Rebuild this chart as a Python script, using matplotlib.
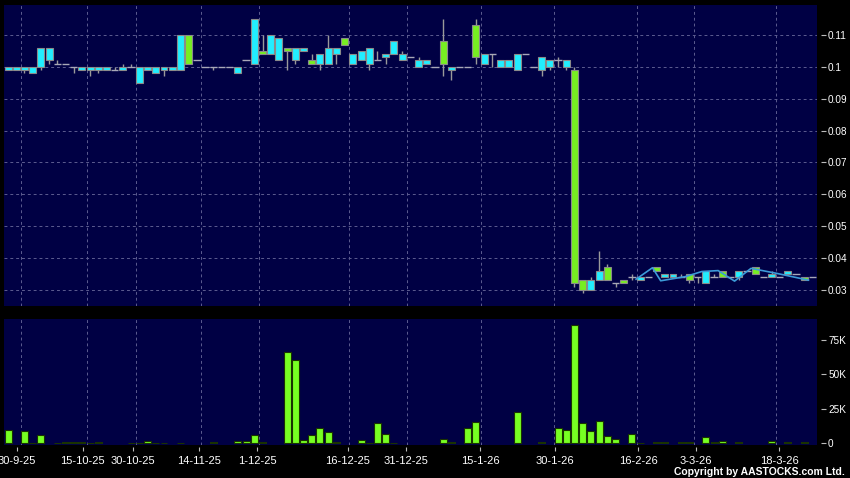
import numpy as np
import matplotlib.pyplot as plt

plt.rcParams['font.family'] = ['Liberation Sans', 'DejaVu Sans']

# daily candles, index 0..98
opens = [0.099, 0.099, 0.099, 0.098, 0.100, 0.102, 0.101, 0.101, 0.100, 0.099,
         0.099, 0.099, 0.099, 0.099, 0.099, 0.100, 0.095, 0.099, 0.098, 0.099,
         0.099, 0.099, 0.110, 0.102, 0.100, 0.100, 0.100, 0.100, 0.098, 0.102,
         0.101, 0.105, 0.104, 0.102, 0.106, 0.102, 0.105, 0.102, 0.101, 0.101,
         0.104, 0.109, 0.101, 0.102, 0.101, 0.102, 0.103, 0.104, 0.102, 0.103,
         0.100, 0.101, 0.100, 0.108, 0.099, 0.100, 0.100, 0.113, 0.101, 0.104,
         0.100, 0.100, 0.099, 0.104, 0.100, 0.099, 0.100, 0.102, 0.100, 0.099,
         0.033, 0.030, 0.033, 0.037, 0.032, 0.033, 0.034, 0.033, 0.034, 0.037,
         0.034, 0.034, 0.034, 0.035, 0.034, 0.032, 0.034, 0.036, 0.034, 0.034,
         0.036, 0.037, 0.034, 0.034, 0.034, 0.035, 0.035, 0.034, 0.034]
highs = [0.100, 0.100, 0.100, 0.100, 0.106, 0.106, 0.102, 0.101, 0.100, 0.100,
         0.100, 0.100, 0.100, 0.100, 0.101, 0.101, 0.100, 0.100, 0.100, 0.100,
         0.100, 0.110, 0.110, 0.102, 0.100, 0.100, 0.100, 0.100, 0.100, 0.102,
         0.115, 0.110, 0.110, 0.109, 0.106, 0.106, 0.106, 0.104, 0.104, 0.110,
         0.106, 0.109, 0.104, 0.105, 0.106, 0.105, 0.104, 0.108, 0.105, 0.103,
         0.103, 0.102, 0.100, 0.115, 0.100, 0.100, 0.100, 0.115, 0.104, 0.104,
         0.102, 0.102, 0.104, 0.104, 0.100, 0.103, 0.102, 0.103, 0.102, 0.100,
         0.033, 0.034, 0.042, 0.038, 0.032, 0.033, 0.035, 0.034, 0.034, 0.037,
         0.035, 0.035, 0.035, 0.035, 0.034, 0.036, 0.035, 0.036, 0.034, 0.036,
         0.036, 0.037, 0.034, 0.036, 0.034, 0.036, 0.035, 0.034, 0.034]
lows = [0.099, 0.099, 0.098, 0.098, 0.099, 0.101, 0.101, 0.101, 0.098, 0.099,
        0.097, 0.098, 0.099, 0.099, 0.099, 0.100, 0.095, 0.099, 0.098, 0.097,
        0.099, 0.099, 0.101, 0.102, 0.100, 0.099, 0.100, 0.100, 0.098, 0.102,
        0.101, 0.104, 0.104, 0.102, 0.099, 0.101, 0.105, 0.101, 0.099, 0.101,
        0.101, 0.107, 0.101, 0.102, 0.099, 0.102, 0.101, 0.104, 0.102, 0.103,
        0.100, 0.101, 0.100, 0.097, 0.096, 0.100, 0.100, 0.101, 0.101, 0.100,
        0.100, 0.100, 0.099, 0.104, 0.100, 0.097, 0.099, 0.100, 0.099, 0.031,
        0.029, 0.030, 0.033, 0.033, 0.031, 0.032, 0.033, 0.033, 0.034, 0.036,
        0.034, 0.034, 0.034, 0.032, 0.032, 0.032, 0.034, 0.034, 0.034, 0.033,
        0.036, 0.035, 0.034, 0.034, 0.034, 0.035, 0.035, 0.033, 0.034]
closes = [0.100, 0.100, 0.100, 0.100, 0.106, 0.106, 0.101, 0.101, 0.100, 0.100,
          0.100, 0.100, 0.100, 0.099, 0.100, 0.100, 0.100, 0.100, 0.100, 0.100,
          0.100, 0.110, 0.101, 0.102, 0.100, 0.100, 0.100, 0.100, 0.100, 0.102,
          0.115, 0.104, 0.110, 0.109, 0.105, 0.106, 0.106, 0.101, 0.104, 0.106,
          0.106, 0.107, 0.104, 0.105, 0.106, 0.102, 0.104, 0.108, 0.104, 0.103,
          0.102, 0.102, 0.100, 0.101, 0.100, 0.100, 0.100, 0.103, 0.104, 0.104,
          0.102, 0.102, 0.104, 0.104, 0.100, 0.103, 0.102, 0.102, 0.102, 0.032,
          0.030, 0.033, 0.036, 0.033, 0.032, 0.032, 0.034, 0.034, 0.034, 0.036,
          0.035, 0.035, 0.034, 0.033, 0.034, 0.036, 0.034, 0.034, 0.034, 0.036,
          0.036, 0.035, 0.034, 0.035, 0.034, 0.036, 0.035, 0.033, 0.034]
# volume in thousands of shares
volumes = [9.7, 0, 8.9, 0.4, 6.0, 0, 0.2, 1.0, 1.0, 1.0,
           0.2, 1.0, 0, 0, 0, 0.2, 0.2, 1.9, 0.2, 0.2,
           0, 0.1, 0, 0, 0, 0.9, 0, 0, 1.9, 1.7,
           5.8, 1.0, 0, 0, 66.5, 60.5, 2.4, 6.0, 10.9, 8.4,
           0.7, 0, 0, 2.4, 0.3, 14.7, 6.5, 0.2, 0, 0,
           0, 0, 0, 3.2, 1.0, 0, 10.9, 15.2, 0, 0,
           0, 0, 22.5, 0, 0, 1.2, 0, 11.3, 9.4, 85.9,
           15.1, 9.2, 16.2, 5.1, 3.2, 0, 7.0, 0.3, 0, 0.7,
           0.7, 0, 0.7, 1.0, 0, 4.6, 1.0, 1.7, 0, 1.2,
           0, 0, 0, 1.9, 0, 1.0, 0, 1.0, 0]
# thin blue line, only its corner points (index -> price)
line_idx = [77, 79, 80, 83, 85, 87, 89, 91, 94, 98]
line_val = [0.0333, 0.0369, 0.0328, 0.0341, 0.0357, 0.0360, 0.0327, 0.0367, 0.0352, 0.0330]

date_labels = ['30-9-25', '15-10-25', '30-10-25', '14-11-25', '1-12-25', '16-12-25',
               '31-12-25', '15-1-26', '30-1-26', '16-2-26', '3-3-26', '18-3-26']
date_ticks = [1.06, 9.10, 15.19, 23.26, 30.33, 41.41, 48.48, 57.49, 66.63, 76.74, 83.80, 93.91]
date_grid = [1.55, 9.59, 15.55, 23.51, 30.54, 41.53, 48.56, 57.58, 66.56, 76.58, 83.52, 93.51]

o = np.array(opens)
h = np.array(highs)
l = np.array(lows)
c = np.array(closes)
v = np.array(volumes)
idx = np.arange(len(o))

up = c > o + 1e-9
down = c < o - 1e-9
flat = ~(up | down)

navy = '#000044'
gridc = '#5c5c90'
W, H = 850, 478

fig = plt.figure(figsize=(W / 100, H / 100), dpi=100, facecolor='black')
ax = fig.add_axes([4 / W, 1 - 306 / H, 813 / W, 301 / H])
axv = fig.add_axes([4 / W, 1 - 444.5 / H, 813 / W, 125.5 / H])

for a in (ax, axv):
    a.set_facecolor(navy)
    for s in a.spines.values():
        s.set_color('none')
    a.spines['right'].set_position(('outward', 3))
    a.yaxis.tick_right()
    a.set_xlim(-0.49, 98.54)
    a.set_xticks(date_grid, minor=True)
    a.tick_params(which='minor', length=0)
    a.tick_params(axis='y', which='major', colors='#bbbbbb', labelcolor='white',
                  length=3.5, width=0.8, pad=1.5, labelsize=7.2)
    a.grid(which='minor', axis='x', color=gridc, linestyle=(0, (3, 3)), linewidth=0.7)
    a.set_axisbelow(True)

# price panel
ax.vlines(idx, l, h, color='#9a9a9a', linewidth=1, zorder=2)
ax.bar(idx[up], (c - o)[up], bottom=o[up], width=0.85, color='#22EEFF',
       edgecolor='#8a8a8a', linewidth=0.8, zorder=3)
ax.bar(idx[down], (o - c)[down], bottom=c[down], width=0.85, color='#77EE22',
       edgecolor='#8a8a8a', linewidth=0.8, zorder=3)
ax.hlines(c[flat], idx[flat] - 0.45, idx[flat] + 0.45, color='#a8a8b8', linewidth=1, zorder=3)
ax.plot(np.array(line_idx) - 0.5, line_val, color='#3c9ad8', linewidth=1.2, zorder=4)

ax.set_ylim(0.02488, 0.11942)
yt = np.round(np.arange(0.03, 0.1101, 0.01), 2)
ax.set_yticks(yt, ['%g' % t for t in yt])
ax.set_xticks([])
ax.grid(which='major', axis='y', color=gridc, linestyle=(0, (3, 3)), linewidth=0.7)

# volume panel
m = v > 0
axv.bar(idx[m], v[m], width=0.85, color='#77FF22', edgecolor='#1a3300', linewidth=0.8, zorder=3)
axv.set_ylim(-0.87, 90.3)
axv.set_yticks([0, 25, 50, 75], ['0', '25K', '50K', '75K'])
axv.set_yticks([25, 50, 75], minor=True)
axv.grid(which='minor', axis='y', color=gridc, linestyle=(0, (3, 3)), linewidth=0.7)
axv.spines['bottom'].set_position(('outward', 2))
axv.set_xticks(date_ticks, date_labels)
axv.tick_params(axis='x', which='major', colors='#bbbbbb', labelcolor='white',
                length=3, width=0.8, pad=3, labelsize=8)

fig.text(845 / W, 1 - 472 / H, 'Copyright by AASTOCKS.com Ltd.', ha='right', va='center',
         color='white', fontsize=7.5, fontweight='bold')

fig.savefig('out.png', dpi=100, facecolor='black')
